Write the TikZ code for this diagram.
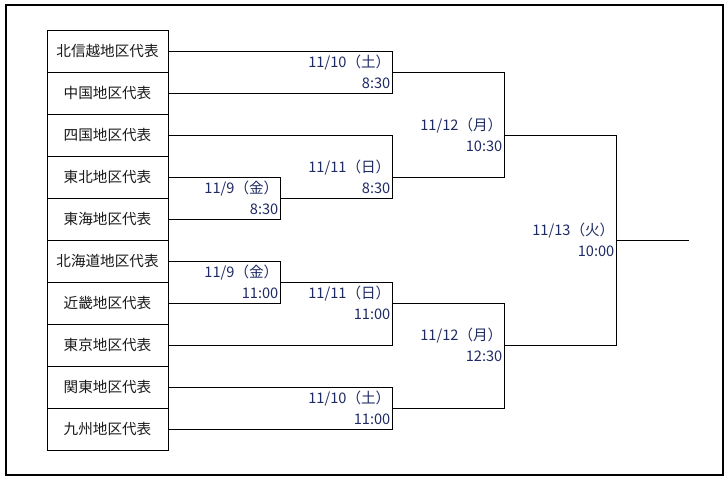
\documentclass[tikz,border=0pt]{standalone}
\usepackage{fontspec}
\setmainfont{Noto Sans CJK JP}
\usetikzlibrary{math}
\definecolor{datenavy}{RGB}{30,42,100}
\definecolor{nameblack}{RGB}{25,25,25}

\begin{document}
\begin{tikzpicture}[x=1pt,y=-1pt,
  team/.style={draw,line width=0.8pt,minimum width=121pt,minimum height=42pt,
    inner sep=0pt,font=\fontsize{14.6}{16}\selectfont,text=nameblack},
  date/.style={anchor=east,align=right,inner sep=1.5pt,
    font=\fontsize{14.6}{21}\selectfont,text=datenavy},
  wire/.style={line width=0.8pt}]
\tikzmath{
\row=42;
}
\useasboundingbox (0,0) rectangle (726,481);
\draw[line width=2pt] (6,5) rectangle (723,475);

% teams
\foreach \name [count=\i] in {北信越地区代表,中国地区代表,四国地区代表,東北地区代表,東海地区代表,北海道地区代表,近畿地区代表,東京地区代表,関東地区代表,九州地区代表}{
\node[team] (t\i) at (107.5,9+\row*\i) {\name};
}

% match points
\coordinate (m1) at (392,72);
\coordinate (a1) at (280,198);
\coordinate (m2) at (392,177);
\coordinate (s1) at (504,135);
\coordinate (a2) at (280,282);
\coordinate (m3) at (392,303);
\coordinate (m4) at (392,408);
\coordinate (s2) at (504,345);
\coordinate (f) at (616,240);
\coordinate (win) at (689,240);

\draw[wire] (t1.east) -| (m1);
\draw[wire] (t2.east) -| (m1);
\draw[wire] (t4.east) -| (a1);
\draw[wire] (t5.east) -| (a1);
\draw[wire] (t3.east) -| (m2);
\draw[wire] (a1) -| (m2);
\draw[wire] (m1) -| (s1);
\draw[wire] (m2) -| (s1);
\draw[wire] (t6.east) -| (a2);
\draw[wire] (t7.east) -| (a2);
\draw[wire] (a2) -| (m3);
\draw[wire] (t8.east) -| (m3);
\draw[wire] (t9.east) -| (m4);
\draw[wire] (t10.east) -| (m4);
\draw[wire] (m3) -| (s2);
\draw[wire] (m4) -| (s2);
\draw[wire] (s1) -| (f);
\draw[wire] (s2) -| (f);
\draw[wire] (f) -- (win);

% dates
\node[date] (l-m1) at (m1) {11/10（土）\\8:30};
\node[date] (l-a1) at (a1) {11/9（金）\\8:30};
\node[date] (l-m2) at (m2) {11/11（日）\\8:30};
\node[date] (l-s1) at (s1) {11/12（月）\\10:30};
\node[date] (l-a2) at (a2) {11/9（金）\\11:00};
\node[date] (l-m3) at (m3) {11/11（日）\\11:00};
\node[date] (l-m4) at (m4) {11/10（土）\\11:00};
\node[date] (l-s2) at (s2) {11/12（月）\\12:30};
\node[date] (l-f) at (f) {11/13（火）\\10:00};
\end{tikzpicture}
\end{document}
